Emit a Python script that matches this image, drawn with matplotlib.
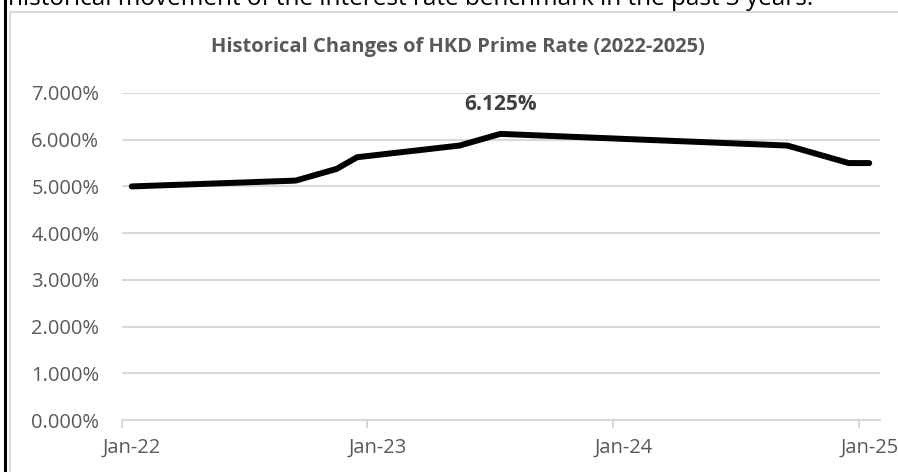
"""HKD prime rate history 2022-2025, redrawn as a single line chart."""

import matplotlib

matplotlib.use("Agg")
import matplotlib.pyplot as plt
from matplotlib.lines import Line2D

# ------------------------------------------------------------------ data

CHANGE_MONTHS = ["2022-01", "2022-09", "2022-11", "2022-12", "2023-05",
                 "2023-07", "2024-09", "2024-12", "2025-01"]
PRIME_RATE = [5.000, 5.125, 5.375, 5.625, 5.875, 6.125, 5.875, 5.500, 5.500]
TICK_LABELS = ["Jan-22", "Jan-23", "Jan-24", "Jan-25"]
PEAK_LABEL = "6.125%"
TITLE = "Historical Changes of HKD Prime Rate (2022-2025)"
CAPTION = "historical movement of the interest rate benchmark in the past 3 years."

GREY_TXT = "#595959"
GRID = "#d9d9d9"
FONT = "Open Sans"

W, H, DPI = 898, 472, 100


def month_index(ym: str) -> int:
    """Months since Jan 2022."""
    y, m = ym.split("-")
    return (int(y) - 2022) * 12 + int(m) - 1


# Excel date axis: points sit mid-month, between tick marks
x = [month_index(d) + 0.5 for d in CHANGE_MONTHS]

plt.rcParams["font.family"] = [FONT, "DejaVu Sans"]

fig = plt.figure(figsize=(W / DPI, H / DPI), dpi=DPI)
ax = fig.add_axes([121.5 / W, 52 / H, (879.5 - 121.5) / W, 327 / H])

ax.plot(x, PRIME_RATE, color="black", lw=4.3,
        solid_capstyle="round", solid_joinstyle="round", zorder=3)

ax.set_xlim(0, 37)
ax.set_ylim(0, 7)
ax.set_yticks(range(0, 8))
ax.set_yticklabels([f"{v:.3f}%" for v in range(0, 8)])
ax.grid(axis="y", color=GRID, lw=1.5)
ax.set_axisbelow(True)

ax.set_xticks([0, 12, 24, 36])
ax.set_xticklabels([])
ax.set_xticks([0.5, 12.5, 24.5, 36.5], minor=True)
ax.set_xticklabels(TICK_LABELS, minor=True)
ax.tick_params(axis="x", which="major", length=6, width=1.5, color=GRID,
               direction="out")
ax.tick_params(axis="x", which="minor", length=0, pad=13,
               labelsize=14.5, labelcolor=GREY_TXT)
ax.tick_params(axis="y", length=0, pad=16, labelsize=14.5,
               labelcolor=GREY_TXT)

for side in ("top", "right", "left"):
    ax.spines[side].set_visible(False)
ax.spines["bottom"].set_color(GRID)
ax.spines["bottom"].set_linewidth(1.5)
for lbl in ax.get_xticklabels(minor=True):
    lbl.set_clip_on(False)

# peak data label
peak = PRIME_RATE.index(max(PRIME_RATE))
ax.annotate(PEAK_LABEL, (x[peak], PRIME_RATE[peak]), xytext=(0, 21.5),
            textcoords="offset points", ha="center", va="center",
            fontsize=15, fontweight="bold", color="#404040")

fig.text(458 / W, 1 - 47 / H, TITLE, ha="center", va="center",
         fontsize=14.5, fontweight="bold", color=GREY_TXT)

# screenshot surroundings: cut-off caption, page rule, chart frame
fig.text(8 / W, 1 - 5 / H, CAPTION, ha="left", va="baseline",
         fontsize=17.5, color="black")
fig.add_artist(Line2D([5 / W, 5 / W], [0, 1], color="black", lw=2.2,
                      transform=fig.transFigure))
fig.add_artist(Line2D([9.5 / W, 9.5 / W, 1], [0, 1 - 12 / H, 1 - 12 / H],
                      color=GRID, lw=1.5, transform=fig.transFigure))

fig.savefig("out.png", dpi=DPI)
